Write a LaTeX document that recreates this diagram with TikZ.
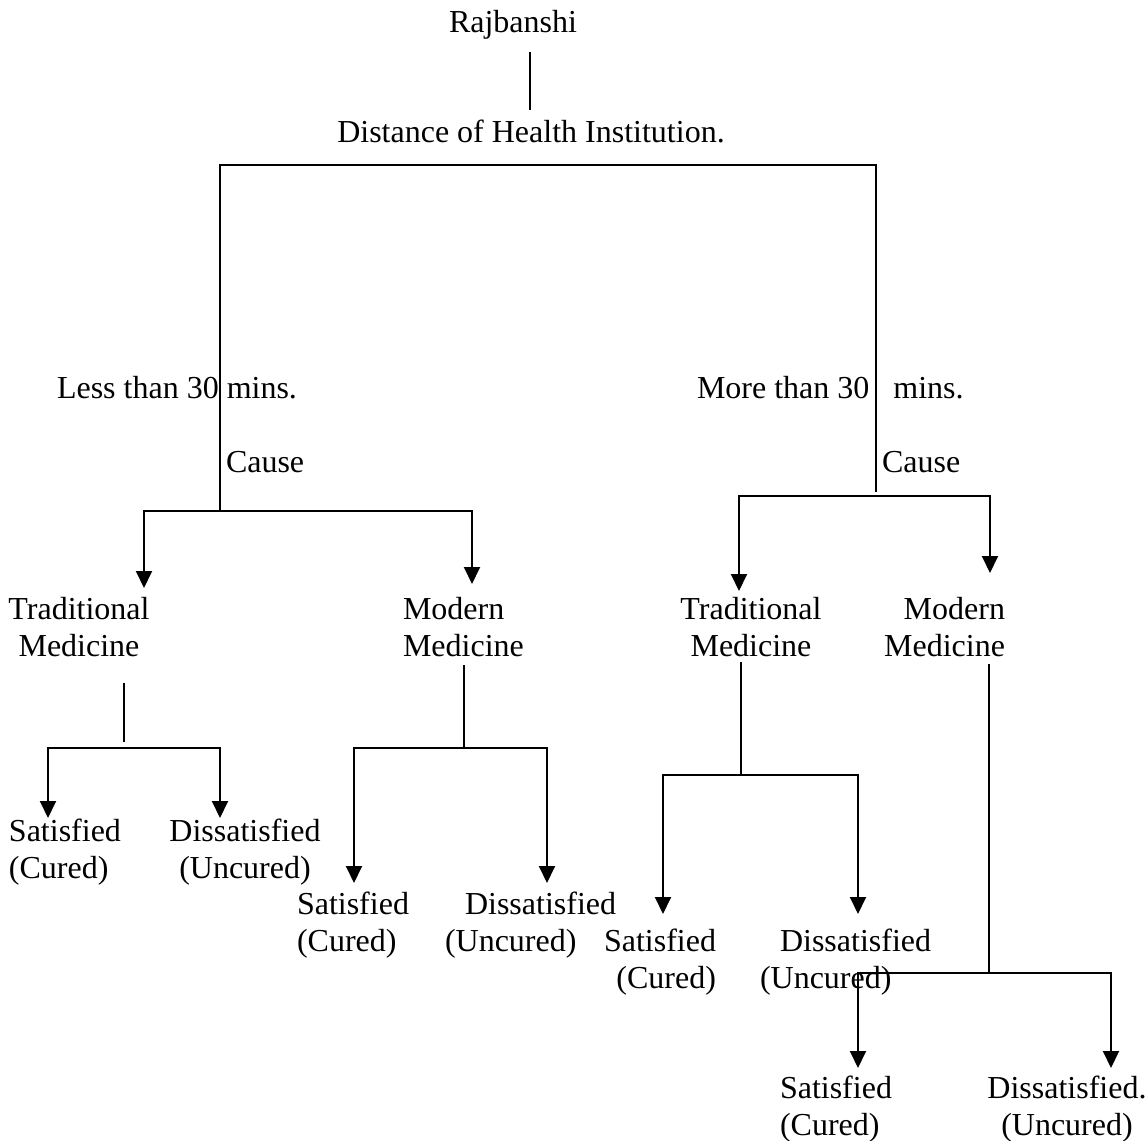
\documentclass[tikz,border=0pt]{standalone}
\usepackage{fontspec}
\setmainfont{Liberation Serif}
\usetikzlibrary{arrows.meta}
\begin{document}
\begin{tikzpicture}[x=0.5pt,y=-0.5pt,
  lbl/.style={inner sep=0pt, outer sep=0pt, font=\fontsize{16pt}{18.5pt}\selectfont},
  conn/.style={line width=0.95pt},
  arr/.style={conn, -{Triangle[width=8pt,length=8.5pt]}}]
\fill[white] (0,0) rectangle (1148,1141);
\useasboundingbox (0,0) rectangle (1148,1141);

% labels
\node[lbl, anchor=base] (raj) at (513,32.5) {Rajbanshi};
\node[lbl, anchor=base] (dist) at (531,142.5) {Distance of Health Institution.};
\node[lbl, anchor=base west] (less) at (57,398.5) {Less than 30 mins.};
\node[lbl, anchor=base west] (more) at (697,398.5) {More than 30\ \ \ mins.};
\node[lbl, anchor=base west] (cause1) at (226,472.5) {Cause};
\node[lbl, anchor=base west] (cause2) at (882,472.5) {Cause};

\node[lbl, align=center, anchor=north] (trad1) at (79,597.5) {Traditional\\Medicine};
\node[lbl, align=left, anchor=north west] (mod1) at (403,597.5) {Modern\\Medicine};
\node[lbl, align=center, anchor=north] (trad2) at (751,597.5) {Traditional\\Medicine};
\node[lbl, align=right, anchor=north east] (mod2) at (1005,597.5) {Modern\\Medicine};

\node[lbl, align=left, anchor=north west] (sat1) at (9,818.5) {Satisfied\\(Cured)};
\node[lbl, align=center, anchor=north] (dis1) at (245,818.5) {Dissatisfied\\(Uncured)};
\node[lbl, align=left, anchor=north west] (sat2) at (297,891.5) {Satisfied\\(Cured)};
\node[lbl, align=left, anchor=north west] (dis2) at (445,891.5) {\hspace*{10pt}Dissatisfied\\(Uncured)};
\node[lbl, align=right, anchor=north east] (sat3) at (716,928.5) {Satisfied\\(Cured)};
\node[lbl, align=left, anchor=north west] (dis3) at (760,928.5) {\hspace*{10pt}Dissatisfied\\(Uncured)};
\node[lbl, align=left, anchor=north west] (sat4) at (780,1075.5) {Satisfied\\(Cured)};
\node[lbl, align=center, anchor=north] (dis4) at (1067,1075.5) {Dissatisfied.\\(Uncured)};

% junction points
\coordinate (rajS) at (530,52);
\coordinate (distN) at (530,110);
\coordinate (topL) at (220,165);
\coordinate (topR) at (876,165);
\coordinate (forkL) at (220,511);
\coordinate (forkRend) at (876,492);
\coordinate (forkR) at (876,496);

\coordinate (tipT1) at (144,588);
\coordinate (tipM1) at (472,584);
\coordinate (tipT2) at (739,591);
\coordinate (tipM2) at (990,573);

\coordinate (stT1a) at (124,683);
\coordinate (stT1b) at (124,742);
\coordinate (jT1) at (124,748);
\coordinate (tipS1) at (48,818);
\coordinate (tipD1) at (220,818);

\coordinate (stM1) at (464,665);
\coordinate (jM1) at (464,748);
\coordinate (tipS2) at (354,883);
\coordinate (tipD2) at (547,883);

\coordinate (stT2) at (741,662);
\coordinate (jT2) at (741,775);
\coordinate (tipS3) at (663,914);
\coordinate (tipD3) at (858,914);

\coordinate (stM2) at (989,664);
\coordinate (jM2) at (989,973);
\coordinate (tipS4) at (858,1068);
\coordinate (tipD4) at (1111,1068);

% connectors
\draw[conn] (rajS) -- (distN);
\draw[conn] (forkL) -- (topL) -- (topR) -- (forkRend);

\draw[arr] (forkL) -| (tipT1);
\draw[arr] (forkL) -| (tipM1);
\draw[arr] (forkR) -| (tipT2);
\draw[arr] (forkR) -| (tipM2);

\draw[conn] (stT1a) -- (stT1b);
\draw[arr] (jT1) -| (tipS1);
\draw[arr] (jT1) -| (tipD1);

\draw[conn] (stM1) -- (jM1);
\draw[arr] (jM1) -| (tipS2);
\draw[arr] (jM1) -| (tipD2);

\draw[conn] (stT2) -- (jT2);
\draw[arr] (jT2) -| (tipS3);
\draw[arr] (jT2) -| (tipD3);

\draw[conn] (stM2) -- (jM2);
\draw[arr] (jM2) -| (tipS4);
\draw[arr] (jM2) -| (tipD4);
\end{tikzpicture}
\end{document}
